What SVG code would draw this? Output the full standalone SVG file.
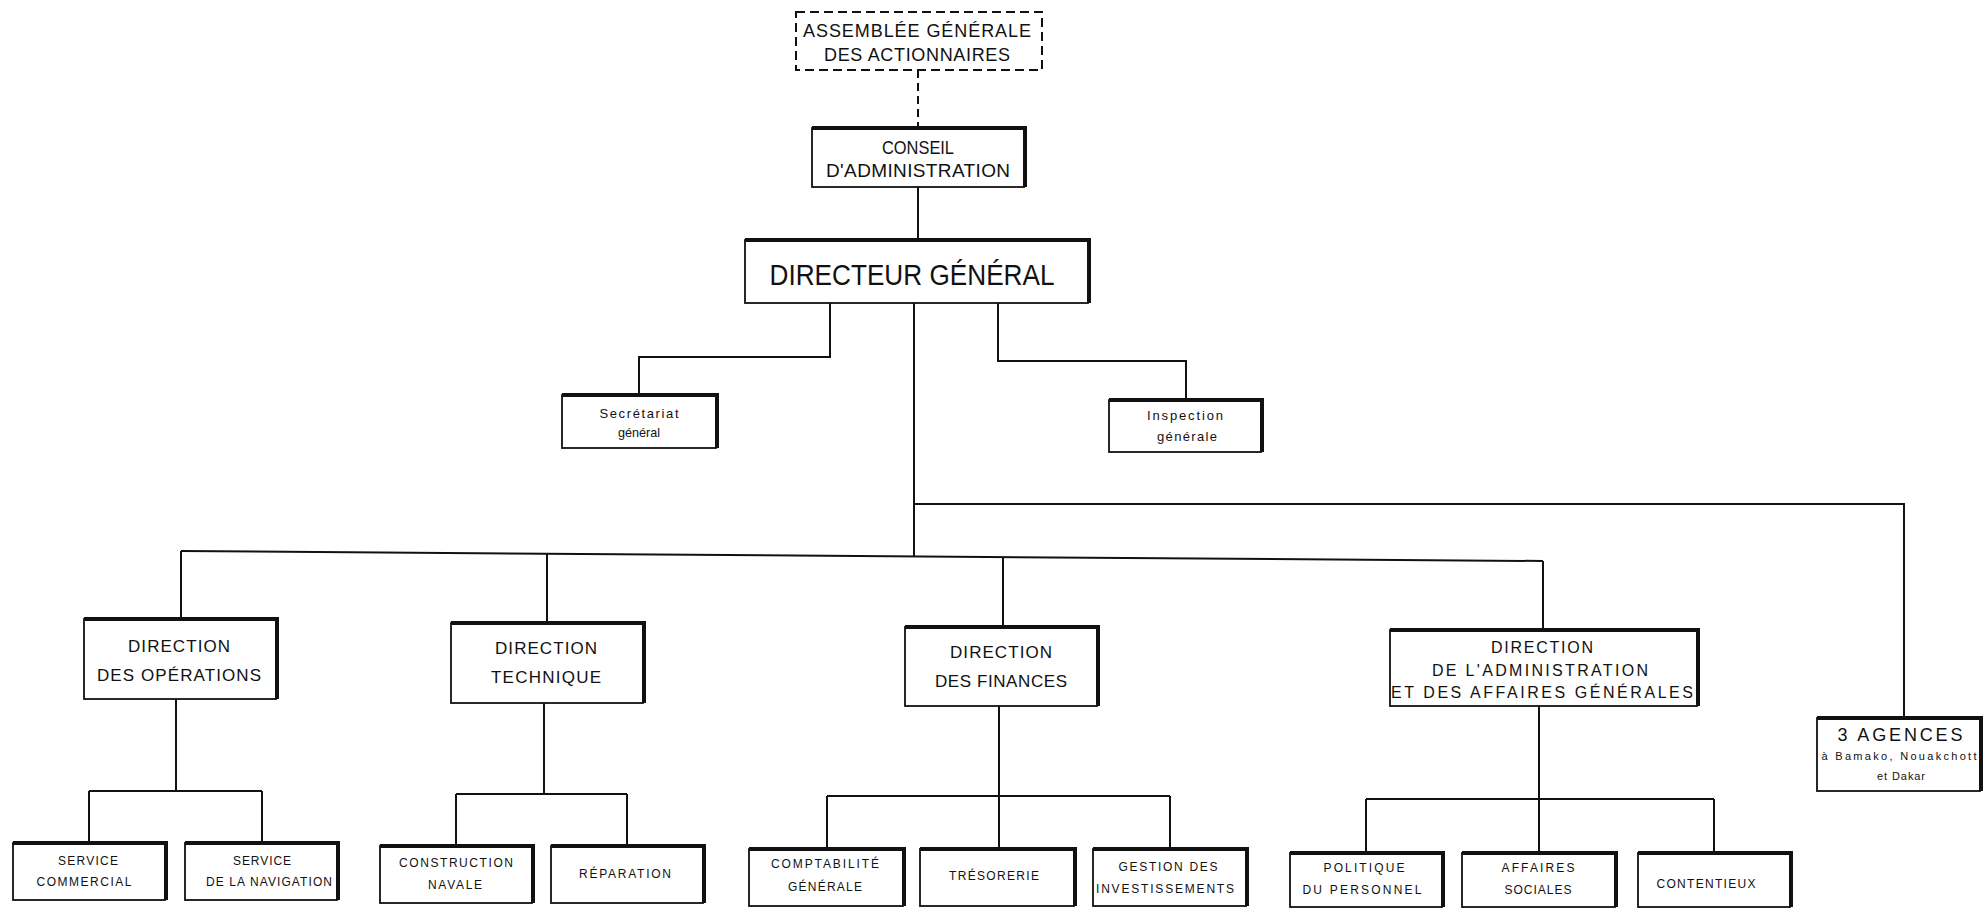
<svg xmlns="http://www.w3.org/2000/svg" width="1985" height="909" viewBox="0 0 1985 909">
<style>
.bg{fill:#fff}
.box{fill:#fff;stroke:#111;stroke-width:1.8}
.dbox{fill:#fff;stroke:#111;stroke-width:2;stroke-dasharray:9 5}
.sh{fill:none;stroke:#111;stroke-width:4;stroke-linejoin:miter}
.ln{fill:none;stroke:#111;stroke-width:2}
.dl{fill:none;stroke:#111;stroke-width:2;stroke-dasharray:8 5}
text{font-family:"Liberation Sans",Arial,sans-serif;fill:#111;text-anchor:middle}
.f30{font-size:30px}
.f19{font-size:19px}
.f18{font-size:18px}
.f17{font-size:17px}
.f16{font-size:16px}
.f13{font-size:13px}
.f12{font-size:12px}
.f11{font-size:11px}
</style>
<rect class="bg" x="0" y="0" width="1985" height="909"/>

<g id="connectors">
<path class="dl" d="M918 70 V128"/>
<path class="ln" d="M918 187 V240"/>
<path class="ln" d="M830 303 V357 H639 V395"/>
<path class="ln" d="M998 303 V361 H1186 V400"/>
<path class="ln" d="M914 303 V556"/>
<path class="ln" d="M914 504 H1904 V718"/>
<path class="ln" d="M181 551 L1543 561"/>
<path class="ln" d="M181 551 V619"/>
<path class="ln" d="M547 554 V623"/>
<path class="ln" d="M1003 558 V627"/>
<path class="ln" d="M1543 561 V630"/>
<path class="ln" d="M176 699 V791 M89 791 H262 M89 791 V843 M262 791 V843"/>
<path class="ln" d="M544 703 V794 M456 794 H627 M456 794 V846 M627 794 V846"/>
<path class="ln" d="M999 706 V849 M827 796 H1170 M827 796 V849 M1170 796 V849"/>
<path class="ln" d="M1539 706 V853 M1366 799 H1714 M1366 799 V853 M1714 799 V853"/>
</g>

<g id="assemblee">
<rect class="dbox" x="796" y="12" width="246" height="58"/>
<text class="f18" x="917" y="37" textLength="228" lengthAdjust="spacing">ASSEMBLÉE GÉNÉRALE</text>
<text class="f18" x="917" y="61" textLength="186" lengthAdjust="spacing">DES ACTIONNAIRES</text>
</g>

<g id="conseil">
<rect class="box" x="812" y="128" width="212" height="59"/>
<path class="sh" d="M812 128 H1025 V187"/>
<text class="f19" x="918" y="154" textLength="72" lengthAdjust="spacingAndGlyphs">CONSEIL</text>
<text class="f19" x="918" y="177" textLength="184" lengthAdjust="spacing">D'ADMINISTRATION</text>
</g>

<g id="directeur">
<rect class="box" x="745" y="240" width="343" height="63"/>
<path class="sh" d="M745 240 H1089 V303"/>
<text class="f30" x="912" y="285" textLength="285" lengthAdjust="spacingAndGlyphs">DIRECTEUR GÉNÉRAL</text>
</g>

<g id="secretariat">
<rect class="box" x="562" y="395" width="154" height="53"/>
<path class="sh" d="M562 395 H717 V448"/>
<text class="f13" x="639" y="418" textLength="79" lengthAdjust="spacing">Secrétariat</text>
<text class="f13" x="639" y="437" textLength="42" lengthAdjust="spacingAndGlyphs">général</text>
</g>

<g id="inspection">
<rect class="box" x="1109" y="400" width="152" height="52"/>
<path class="sh" d="M1109 400 H1262 V452"/>
<text class="f13" x="1185" y="420" textLength="76" lengthAdjust="spacing">Inspection</text>
<text class="f13" x="1187" y="441" textLength="60" lengthAdjust="spacing">générale</text>
</g>

<g id="dir-operations">
<rect class="box" x="84" y="619" width="192" height="80"/>
<path class="sh" d="M84 619 H277 V699"/>
<text class="f17" x="179" y="652" textLength="102" lengthAdjust="spacing">DIRECTION</text>
<text class="f17" x="179" y="681" textLength="164" lengthAdjust="spacing">DES OPÉRATIONS</text>
</g>

<g id="dir-technique">
<rect class="box" x="451" y="623" width="192" height="80"/>
<path class="sh" d="M451 623 H644 V703"/>
<text class="f17" x="546" y="654" textLength="102" lengthAdjust="spacing">DIRECTION</text>
<text class="f17" x="546" y="683" textLength="110" lengthAdjust="spacing">TECHNIQUE</text>
</g>

<g id="dir-finances">
<rect class="box" x="905" y="627" width="192" height="79"/>
<path class="sh" d="M905 627 H1098 V706"/>
<text class="f17" x="1001" y="658" textLength="102" lengthAdjust="spacing">DIRECTION</text>
<text class="f17" x="1001" y="687" textLength="132" lengthAdjust="spacing">DES FINANCES</text>
</g>

<g id="dir-administration">
<rect class="box" x="1390" y="630" width="307" height="76"/>
<path class="sh" d="M1390 630 H1698 V706"/>
<text class="f16" x="1542" y="653" textLength="102" lengthAdjust="spacing">DIRECTION</text>
<text class="f16" x="1540" y="676" textLength="216" lengthAdjust="spacing">DE L'ADMINISTRATION</text>
<text class="f16" x="1542" y="698" textLength="302" lengthAdjust="spacing">ET DES AFFAIRES GÉNÉRALES</text>
</g>

<g id="agences">
<rect class="box" x="1817" y="718" width="163" height="73"/>
<path class="sh" d="M1817 718 H1981 V791"/>
<text class="f18" x="1900" y="741" textLength="125" lengthAdjust="spacing">3 AGENCES</text>
<text class="f11" x="1899" y="760" textLength="155" lengthAdjust="spacing">à Bamako, Nouakchott</text>
<text class="f11" x="1901" y="780" textLength="48" lengthAdjust="spacing">et Dakar</text>
</g>

<g id="service-commercial">
<rect class="box" x="13" y="843" width="152" height="57"/>
<path class="sh" d="M13 843 H166 V900"/>
<text class="f12" x="88" y="865" textLength="60" lengthAdjust="spacing">SERVICE</text>
<text class="f12" x="84" y="886" textLength="95" lengthAdjust="spacing">COMMERCIAL</text>
</g>

<g id="service-navigation">
<rect class="box" x="185" y="843" width="152" height="57"/>
<path class="sh" d="M185 843 H338 V900"/>
<text class="f12" x="262" y="865" textLength="58" lengthAdjust="spacing">SERVICE</text>
<text class="f12" x="269" y="886" textLength="126" lengthAdjust="spacing">DE LA NAVIGATION</text>
</g>

<g id="construction-navale">
<rect class="box" x="380" y="846" width="152" height="57"/>
<path class="sh" d="M380 846 H533 V903"/>
<text class="f12" x="456" y="867" textLength="114" lengthAdjust="spacing">CONSTRUCTION</text>
<text class="f12" x="455" y="889" textLength="54" lengthAdjust="spacing">NAVALE</text>
</g>

<g id="reparation">
<rect class="box" x="551" y="846" width="152" height="57"/>
<path class="sh" d="M551 846 H704 V903"/>
<text class="f12" x="625" y="878" textLength="92" lengthAdjust="spacing">RÉPARATION</text>
</g>

<g id="comptabilite">
<rect class="box" x="749" y="849" width="154" height="57"/>
<path class="sh" d="M749 849 H904 V906"/>
<text class="f12" x="825" y="868" textLength="108" lengthAdjust="spacing">COMPTABILITÉ</text>
<text class="f12" x="825" y="891" textLength="74" lengthAdjust="spacing">GÉNÉRALE</text>
</g>

<g id="tresorerie">
<rect class="box" x="920" y="849" width="154" height="57"/>
<path class="sh" d="M920 849 H1075 V906"/>
<text class="f12" x="994" y="880" textLength="90" lengthAdjust="spacing">TRÉSORERIE</text>
</g>

<g id="gestion">
<rect class="box" x="1093" y="849" width="153" height="57"/>
<path class="sh" d="M1093 849 H1247 V906"/>
<text class="f12" x="1168" y="871" textLength="99" lengthAdjust="spacing">GESTION DES</text>
<text class="f12" x="1165" y="893" textLength="138" lengthAdjust="spacing">INVESTISSEMENTS</text>
</g>

<g id="politique">
<rect class="box" x="1290" y="853" width="152" height="54"/>
<path class="sh" d="M1290 853 H1443 V907"/>
<text class="f12" x="1364" y="872" textLength="81" lengthAdjust="spacing">POLITIQUE</text>
<text class="f12" x="1362" y="894" textLength="119" lengthAdjust="spacing">DU PERSONNEL</text>
</g>

<g id="affaires-sociales">
<rect class="box" x="1462" y="853" width="153" height="54"/>
<path class="sh" d="M1462 853 H1616 V907"/>
<text class="f12" x="1538" y="872" textLength="73" lengthAdjust="spacing">AFFAIRES</text>
<text class="f12" x="1538" y="894" textLength="67" lengthAdjust="spacing">SOCIALES</text>
</g>

<g id="contentieux">
<rect class="box" x="1638" y="853" width="152" height="54"/>
<path class="sh" d="M1638 853 H1791 V907"/>
<text class="f12" x="1706" y="888" textLength="99" lengthAdjust="spacing">CONTENTIEUX</text>
</g>
</svg>
